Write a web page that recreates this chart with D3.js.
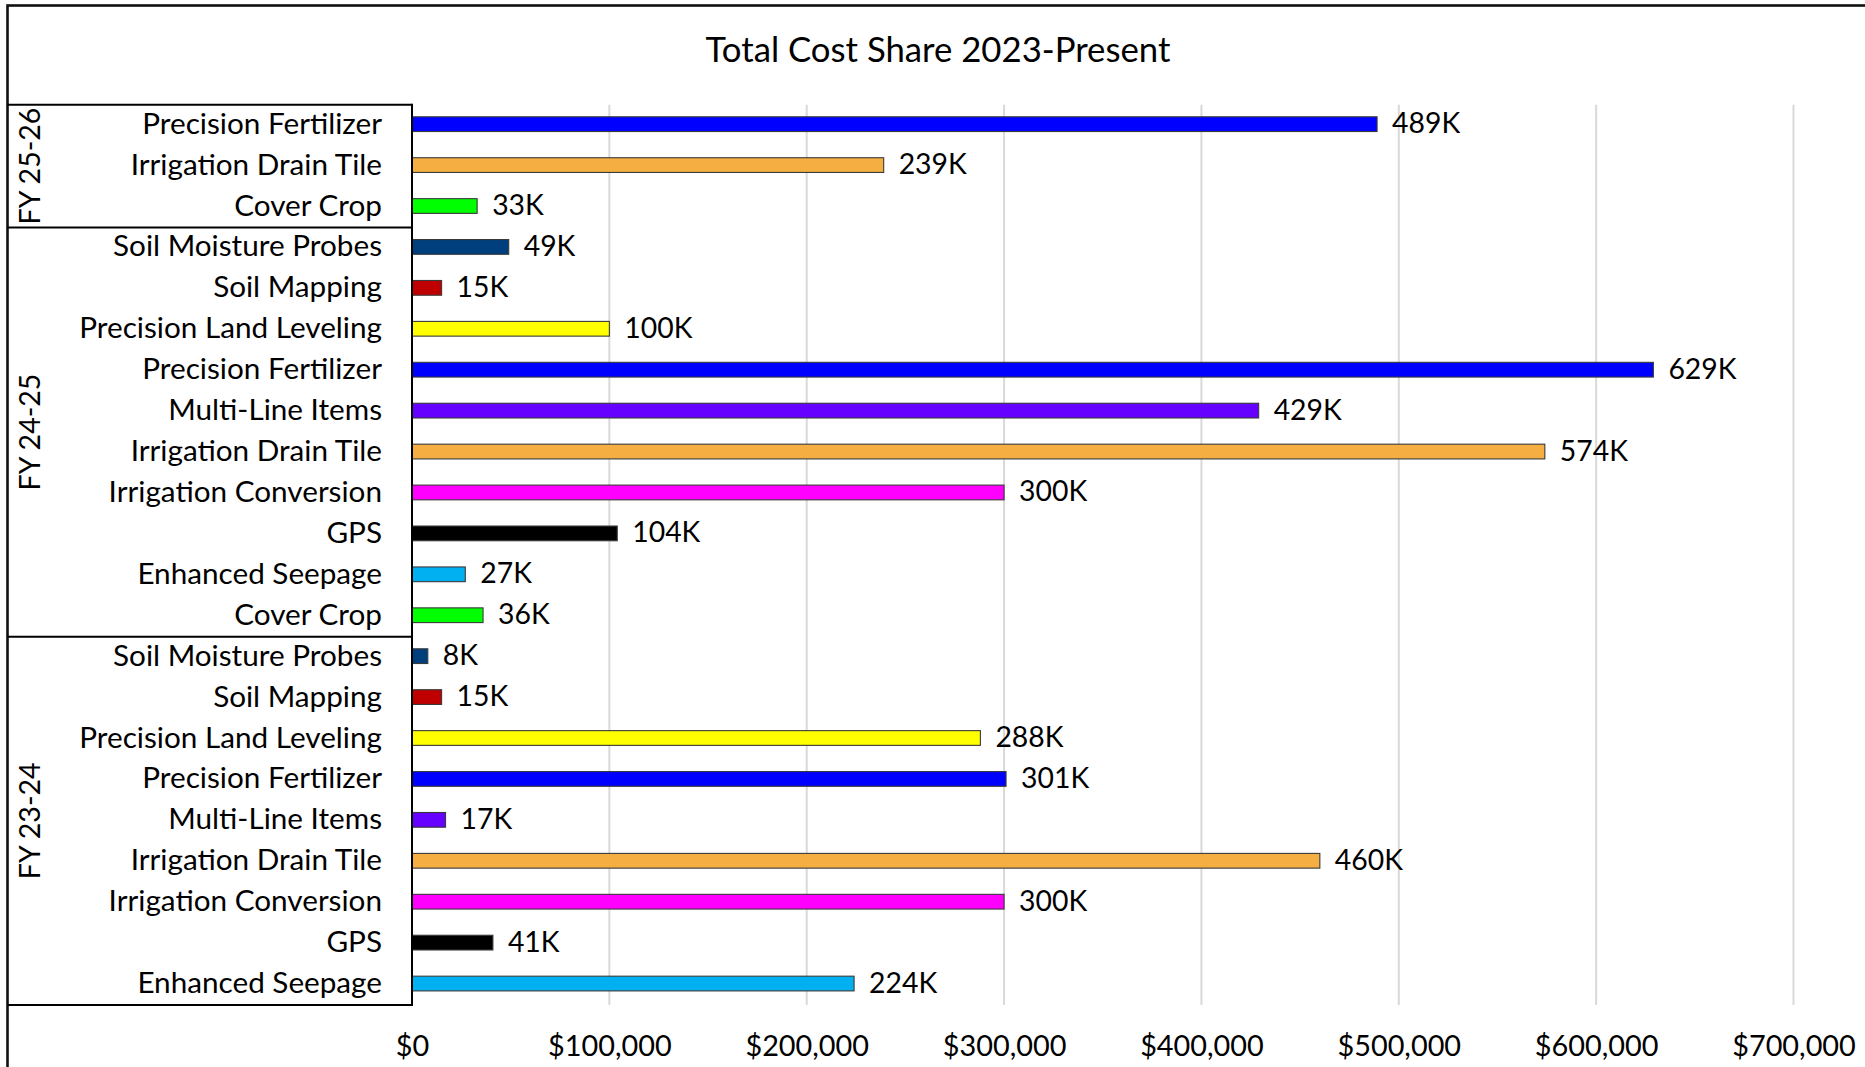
<!DOCTYPE html>
<html>
<head>
<meta charset="utf-8">
<script src="https://cdn.jsdelivr.net/npm/d3@7"></script>
<style>
  html, body { margin: 0; padding: 0; background: #fff; overflow: hidden; }
  svg { display: block; }
  text { font-family: Lato, "Open Sans", sans-serif; fill: #000; }
</style>
</head>
<body>
<svg id="chart" width="1865" height="1067"></svg>
<script>
// ---------------- DATA ----------------
const chartTitle = "Total Cost Share 2023-Present";
const groupNames = ["FY 25-26", "FY 24-25", "FY 23-24"];

const fy2526Categories = ["Precision Fertilizer", "Irrigation Drain Tile", "Cover Crop"];
const fy2526Values = [489000, 239000, 33000];

const fy2425Categories = ["Soil Moisture Probes", "Soil Mapping", "Precision Land Leveling",
  "Precision Fertilizer", "Multi-Line Items", "Irrigation Drain Tile",
  "Irrigation Conversion", "GPS", "Enhanced Seepage", "Cover Crop"];
const fy2425Values = [49000, 15000, 100000, 629000, 429000, 574000, 300000, 104000, 27000, 36000];

const fy2324Categories = ["Soil Moisture Probes", "Soil Mapping", "Precision Land Leveling",
  "Precision Fertilizer", "Multi-Line Items", "Irrigation Drain Tile",
  "Irrigation Conversion", "GPS", "Enhanced Seepage"];
const fy2324Values = [8000, 15000, 288000, 301000, 17000, 460000, 300000, 41000, 224000];

const xTickValues = [0, 100000, 200000, 300000, 400000, 500000, 600000, 700000];

const categoryColors = {
  "Precision Fertilizer": "#0000ff",
  "Irrigation Drain Tile": "#f4ae42",
  "Cover Crop": "#00ff00",
  "Soil Moisture Probes": "#003f7d",
  "Soil Mapping": "#c00000",
  "Precision Land Leveling": "#ffff00",
  "Multi-Line Items": "#6600ff",
  "Irrigation Conversion": "#ff00ff",
  "GPS": "#000000",
  "Enhanced Seepage": "#00b0f0"
};

// ---------------- BUILD ROWS ----------------
const groupCats = [fy2526Categories, fy2425Categories, fy2324Categories];
const groupVals = [fy2526Values, fy2425Values, fy2324Values];
const rows = [];
groupNames.forEach((g, gi) => {
  groupCats[gi].forEach((c, i) => {
    rows.push({ key: g + "|" + c, group: g, category: c, value: groupVals[gi][i] });
  });
});

// ---------------- LAYOUT ----------------
const svg = d3.select("#chart");
const W = 1865, H = 1067;
const plot = { left: 412, right: 1793.5, top: 104.7, bottom: 1005 };
const frameLeft = 7.5, frameTop = 5.5;
const textShift = -2; // vertical correction for Lato's central baseline

// fit Lato to the reference's Calibri widths
function measure(txt, size) {
  const t = svg.append("text").style("font-size", size + "px").text(txt);
  const w = t.node().getComputedTextLength();
  t.remove();
  return w;
}
const labelSize = 100 * 269 / measure("Soil Moisture Probes", 100);
const titleSize = 100 * 465 / measure(chartTitle, 100);
const tickSize = (labelSize + 100 * 120 / measure("$700,000", 100)) / 2;
const groupSize = (labelSize + 100 * 112 / measure("FY 25-26", 100)) / 2;
const valueSize = (labelSize + 100 * 65 / measure("489K", 100)) / 2;

const x = d3.scaleLinear().domain([0, 700000]).range([plot.left, plot.right]);
const y = d3.scaleBand().domain(rows.map(r => r.key))
  .range([plot.top, plot.bottom]).paddingInner(0.64).paddingOuter(0.32);

// background
svg.append("rect").attr("width", W).attr("height", H).attr("fill", "#fff");

// outer chart frame (extends beyond view at right/bottom)
svg.append("rect")
  .attr("x", frameLeft).attr("y", frameTop)
  .attr("width", W + 50).attr("height", H + 50)
  .attr("fill", "none").attr("stroke", "#111").attr("stroke-width", 2.6);

// title
svg.append("text")
  .attr("x", 938).attr("y", 50 + textShift)
  .attr("text-anchor", "middle").attr("dominant-baseline", "central")
  .style("font-size", titleSize + "px")
  .text(chartTitle);

// gridlines
svg.append("g").selectAll("line")
  .data(xTickValues.filter(d => d > 0)).join("line")
  .attr("x1", d => x(d)).attr("x2", d => x(d))
  .attr("y1", plot.top).attr("y2", plot.bottom)
  .attr("stroke", "#d9d9d9").attr("stroke-width", 2);

// x axis labels
const xAxis = d3.axisBottom(x).tickValues(xTickValues)
  .tickFormat(d => "$" + d3.format(",")(d)).tickSize(0).tickPadding(0);
const xg = svg.append("g").attr("transform", `translate(0,${plot.bottom})`).call(xAxis);
xg.select(".domain").remove();
xg.selectAll("text")
  .attr("y", 42 + textShift).attr("dy", null)
  .attr("dominant-baseline", "central")
  .style("font-size", tickSize + "px")
  .style("font-family", "Lato, 'Open Sans', sans-serif")
  .attr("fill", "#000");

// bars
svg.append("g").selectAll("rect")
  .data(rows).join("rect")
  .attr("x", x(0))
  .attr("y", d => y(d.key) - 1)
  .attr("width", d => x(d.value) - x(0))
  .attr("height", y.bandwidth())
  .attr("fill", d => categoryColors[d.category])
  .attr("stroke", "#3a3a3a").attr("stroke-width", 1.1);

// value labels
svg.append("g").selectAll("text")
  .data(rows).join("text")
  .attr("x", d => x(d.value) + 15)
  .attr("y", d => y(d.key) - 1 + y.bandwidth() / 2 + textShift)
  .attr("dominant-baseline", "central")
  .style("font-size", valueSize + "px")
  .text(d => Math.round(d.value / 1000) + "K");

// category labels
svg.append("g").selectAll("text")
  .data(rows).join("text")
  .attr("x", 382)
  .attr("y", d => y(d.key) - 1 + y.bandwidth() / 2 + textShift)
  .attr("text-anchor", "end").attr("dominant-baseline", "central")
  .style("font-size", labelSize + "px")
  .text(d => d.category);

// group boxes
const step = y.step();
let start = 0;
const boxG = svg.append("g");
groupNames.forEach((g, gi) => {
  const n = groupCats[gi].length;
  const y0 = plot.top + start * step;
  const y1 = plot.top + (start + n) * step;
  boxG.append("line")
    .attr("x1", frameLeft).attr("x2", plot.left)
    .attr("y1", y0).attr("y2", y0)
    .attr("stroke", "#000").attr("stroke-width", 2);
  boxG.append("text")
    .attr("transform", `translate(${31 + textShift},${(y0 + y1) / 2}) rotate(-90)`)
    .attr("text-anchor", "middle").attr("dominant-baseline", "central")
    .style("font-size", groupSize + "px")
    .text(g);
  start += n;
});
boxG.append("line")
  .attr("x1", frameLeft).attr("x2", plot.left)
  .attr("y1", plot.bottom).attr("y2", plot.bottom)
  .attr("stroke", "#000").attr("stroke-width", 2);
// value axis line
boxG.append("line")
  .attr("x1", plot.left).attr("x2", plot.left)
  .attr("y1", plot.top - 1).attr("y2", plot.bottom + 1)
  .attr("stroke", "#000").attr("stroke-width", 2);
</script>
</body>
</html>
